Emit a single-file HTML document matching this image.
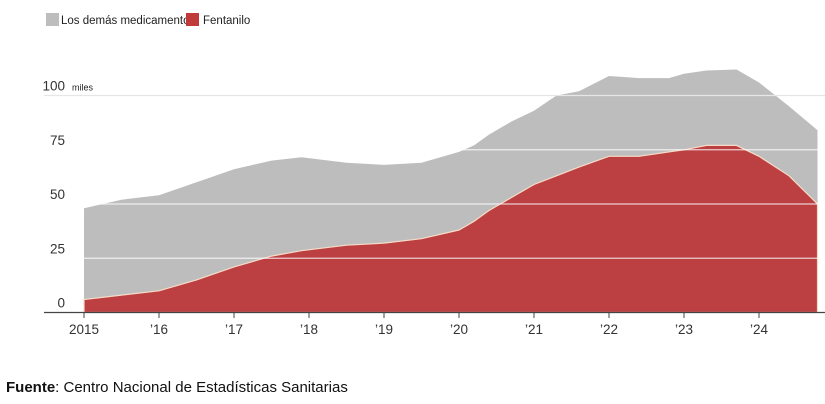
<!DOCTYPE html>
<html><head><meta charset="utf-8"><style>
body{margin:0;background:#fff;}
svg{display:block;font-family:"Liberation Sans",sans-serif;}
</style></head><body>
<svg width="825" height="404" viewBox="0 0 825 404" id="chart">
<g>
<rect x="46" y="13" width="13" height="13" fill="#bdbdbd"/>
<text x="61" y="24" font-size="11.5" fill="#222">Los demás medicamentos</text>
<rect x="186" y="13" width="13" height="13" fill="#c0393b"/>
<text x="203" y="24" font-size="11.5" fill="#222">Fentanilo</text>
</g>
<g id="areas"></g>
<g id="grid"></g>
<g id="xaxis"></g>
<text x="6" y="392" font-size="15" fill="#111"><tspan font-weight="bold">Fuente</tspan>: Centro Nacional de Estadísticas Sanitarias</text>
</svg>
<script>
const years=[2015.0,2015.5,2016.0,2016.5,2017.0,2017.5,2017.9,2018.5,2019.0,2019.5,2020.0,2020.2,2020.4,2020.7,2021.0,2021.3,2021.6,2022.0,2022.4,2022.8,2023.0,2023.3,2023.7,2024.0,2024.4,2024.78];
const totalVals=[48,52,54,60,66,70,71.5,69,68,69,74,77,82,88,93,100,102,109,108,108,110,111.5,112,106,95,84];
const fentVals=[6,8,10,15,21,26,28.5,31,32,34,38,42,47,53,59,63,67,72,72,74,75,77,77,72,63,50];
const yTicks=[0,25,50,75,100];
const xTickYears=[2015,2016,2017,2018,2019,2020,2021,2022,2023,2024];
const xTickLabels=["2015","’16","’17","’18","’19","’20","’21","’22","’23","’24"];
const NS="http://www.w3.org/2000/svg";
const X=v=>84+(v-2015)*75.0;
const Y=v=>312.5-v*2.17;
function mk(tag,attrs,parent){const e=document.createElementNS(NS,tag);for(const k in attrs)e.setAttribute(k,attrs[k]);parent.appendChild(e);return e;}
function areaPath(vals){let d="M"+X(years[0])+","+Y(0);years.forEach((y,i)=>{d+=" L"+X(y).toFixed(1)+","+Y(vals[i]).toFixed(1);});d+=" L"+X(years[years.length-1]).toFixed(1)+","+Y(0)+" Z";return d;}
const areas=document.getElementById('areas');
const a1=mk('path',{d:areaPath(totalVals),fill:'#bdbdbd'},areas);


const a2=mk('path',{d:areaPath(fentVals),fill:'#bc3f41',stroke:'#f6dcc8','stroke-width':1.2},areas);


const grid=document.getElementById('grid');
yTicks.forEach(t=>{
 if(t>0){const l=mk('line',{x1:44,x2:825,y1:Y(t),y2:Y(t),stroke:t===100?'#e6e6e6':'rgba(255,255,255,0.75)','stroke-width':1.3},grid);
 
 }
 const tx=mk('text',{x:65,y:Y(t)-5,'text-anchor':'end','font-size':13.5,fill:'#333'},grid);
 tx.textContent=String(t);
 
 
});
const u=mk('text',{x:72,y:Y(100)-5,'font-size':9,fill:'#222'},grid);
u.textContent='miles';


const xa=document.getElementById('xaxis');
const base=mk('line',{x1:44,x2:825,y1:312.5,y2:312.5,stroke:'#444','stroke-width':1.3},xa);


xTickYears.forEach((yr,i)=>{
 const tk=mk('line',{x1:X(yr),x2:X(yr),y1:312.5,y2:318,stroke:'#444','stroke-width':1},xa);
 
 
 const tx=mk('text',{x:X(yr),y:334,'text-anchor':'middle','font-size':13.5,fill:'#333'},xa);
 tx.textContent=xTickLabels[i];
 
 
});
</script>
</body></html>
